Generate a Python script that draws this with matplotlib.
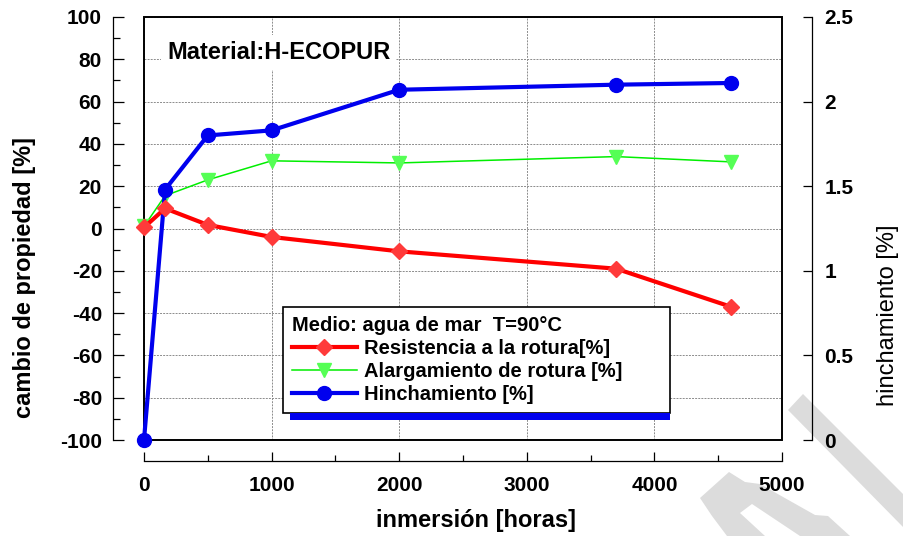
import matplotlib
matplotlib.use("Agg")
import matplotlib.pyplot as plt
from matplotlib.patches import Rectangle, Polygon
from matplotlib.ticker import MultipleLocator, FuncFormatter

plt.rcParams['font.family'] = ['Liberation Sans', 'DejaVu Sans']
plt.rcParams['font.weight'] = 'bold'
plt.rcParams['axes.unicode_minus'] = False

# immersion time [h] and measured changes
horas = [0, 165, 500, 1000, 2000, 3700, 4600]
resistencia = [0.5, 9.5, 1.7, -4.0, -10.8, -19.0, -37.0]
alargamiento = [1.0, 15.5, 23.0, 32.0, 31.0, 34.0, 31.5]
hinchamiento = [0.0, 1.48, 1.80, 1.83, 2.07, 2.10, 2.11]

etiquetas = ['Resistencia a la rotura[%]', 'Alargamiento de rotura [%]', 'Hinchamiento [%]']

W, H = 904, 536
fig = plt.figure(figsize=(W / 100, H / 100), dpi=100)

# plot box in pixels
bx0, bx1, by0, by1 = 144, 782, 17, 440
rect = [bx0 / W, 1 - by1 / H, (bx1 - bx0) / W, (by1 - by0) / H]

ax = fig.add_axes(rect)
ax2 = ax.twinx()
ax3 = fig.add_axes(rect, sharex=ax, sharey=ax)
ax3.axis('off')

ax.set_xlim(0, 5000)
ax.set_ylim(-100, 100)
ax2.set_ylim(0, 2.5)

# green lowest, blue in the middle, red on top
l_al, = ax.plot(horas, alargamiento, color='#00ee00', lw=1.1, marker='v',
                ms=10, mfc='#55ff55', mec='#55ff55', zorder=3, clip_on=False)
l_hi, = ax2.plot(horas, hinchamiento, color='#0000ee', lw=3, marker='o',
                 ms=10, mfc='#0000ee', mec='#0000ee', zorder=3, clip_on=False)
l_re, = ax3.plot(horas, resistencia, color='#ff0000', lw=3, marker='D',
                 ms=8.5, mfc='#ff3a3a', mec='#ff3a3a', zorder=3, clip_on=False)

# grid and frame
ax.grid(True, which='major', ls=(0, (2, 1.2)), color='#8c8c8c', lw=0.7)
ax.add_patch(Rectangle((0, 0), 1, 1, transform=ax.transAxes, fill=False,
                       lw=1.4, ec='black', clip_on=False, zorder=2.5))

# detached axes
for s in ['top', 'right']:
    ax.spines[s].set_visible(False)
for s in ['top', 'left', 'bottom']:
    ax2.spines[s].set_visible(False)
ax.spines['left'].set_position(('outward', 22.3))
ax.spines['left'].set_bounds(-100, 100)
ax.spines['bottom'].set_position(('outward', 15))
ax.spines['bottom'].set_bounds(0, 5000)
ax2.spines['right'].set_position(('outward', 21.6))
ax2.spines['right'].set_bounds(0, 2.5)
for sp in [ax.spines['left'], ax.spines['bottom'], ax2.spines['right']]:
    sp.set_linewidth(0.9)

ax.xaxis.set_major_locator(MultipleLocator(1000))
ax.xaxis.set_minor_locator(MultipleLocator(500))
ax.yaxis.set_major_locator(MultipleLocator(20))
ax.yaxis.set_minor_locator(MultipleLocator(10))
ax2.yaxis.set_major_locator(MultipleLocator(0.5))
ax2.yaxis.set_major_formatter(FuncFormatter(lambda v, p: f'{v:g}'))

ax.tick_params(axis='y', which='major', direction='in', length=8, width=0.9, pad=8, labelsize=15)
ax.tick_params(axis='y', which='minor', direction='in', length=5, width=0.9)
ax.tick_params(axis='x', which='major', direction='in', length=6.5, width=0.9, pad=11, labelsize=15)
ax.tick_params(axis='x', which='minor', direction='in', length=4, width=0.9)
ax2.tick_params(axis='y', which='major', direction='in', length=6.5, width=0.9, pad=9, labelsize=15)

fig.text(25 / W, 1 - 277 / H, 'cambio de propiedad [%]', rotation=90,
         ha='center', va='center', fontsize=17)
fig.text(476 / W, 1 - 520 / H, 'inmersión [horas]', ha='center', va='center', fontsize=17)
fig.text(888 / W, 1 - 315 / H, 'hinchamiento [%]', rotation=90,
         ha='center', va='center', fontsize=17, fontweight='normal')

ax3.text(0.036, 0.917, 'Material:H-ECOPUR', transform=ax.transAxes, fontsize=17,
         va='center', ha='left', zorder=6,
         bbox=dict(boxstyle='square,pad=0.25', fc='white', ec='none'))

leg = ax3.legend([l_re, l_al, l_hi], etiquetas, title='Medio: agua de mar  T=90°C',
                 loc='upper left', bbox_to_anchor=(0.218, 0.059, 0.606, 0.255),
                 mode='expand', borderaxespad=0, fancybox=False, edgecolor='black',
                 framealpha=1, alignment='left', handlelength=3.2, handletextpad=0.35,
                 labelspacing=0.2, borderpad=0.45,
                 prop={'weight': 'bold', 'size': 14.5},
                 title_fontproperties={'weight': 'bold', 'size': 14.5})
leg.get_frame().set_linewidth(1.2)
leg.set_zorder(10)

# blue bar under the legend box
fig.canvas.draw()
bb = leg.get_window_extent().transformed(fig.transFigure.inverted())
fig.add_artist(Rectangle((bb.x0 + 7 / W, bb.y0 - 7 / H), bb.width - 7 / W, 7 / H,
                         transform=fig.transFigure, fc='#0000ee', ec='none', zorder=9))

# grey watermark in the lower right corner
def px(pts):
    return [(x / W, 1 - y / H) for x, y in pts]

gris = '#dcdcdc'
fig.add_artist(Polygon(px([(788, 410), (803, 394), (904, 495), (904, 528)]),
                       transform=fig.transFigure, fc=gris, ec='none', zorder=-1))
fig.add_artist(Polygon(px([(700, 498), (729, 472), (745, 482), (760, 484), (815, 515),
                           (828, 516), (850, 536), (727, 536), (712, 516)]),
                       transform=fig.transFigure, fc=gris, ec='none', zorder=-1))
fig.add_artist(Polygon(px([(740, 513), (752, 504), (800, 536), (765, 536)]),
                       transform=fig.transFigure, fc='white', ec='none', zorder=-0.9))

fig.savefig('out.png', dpi=100)
